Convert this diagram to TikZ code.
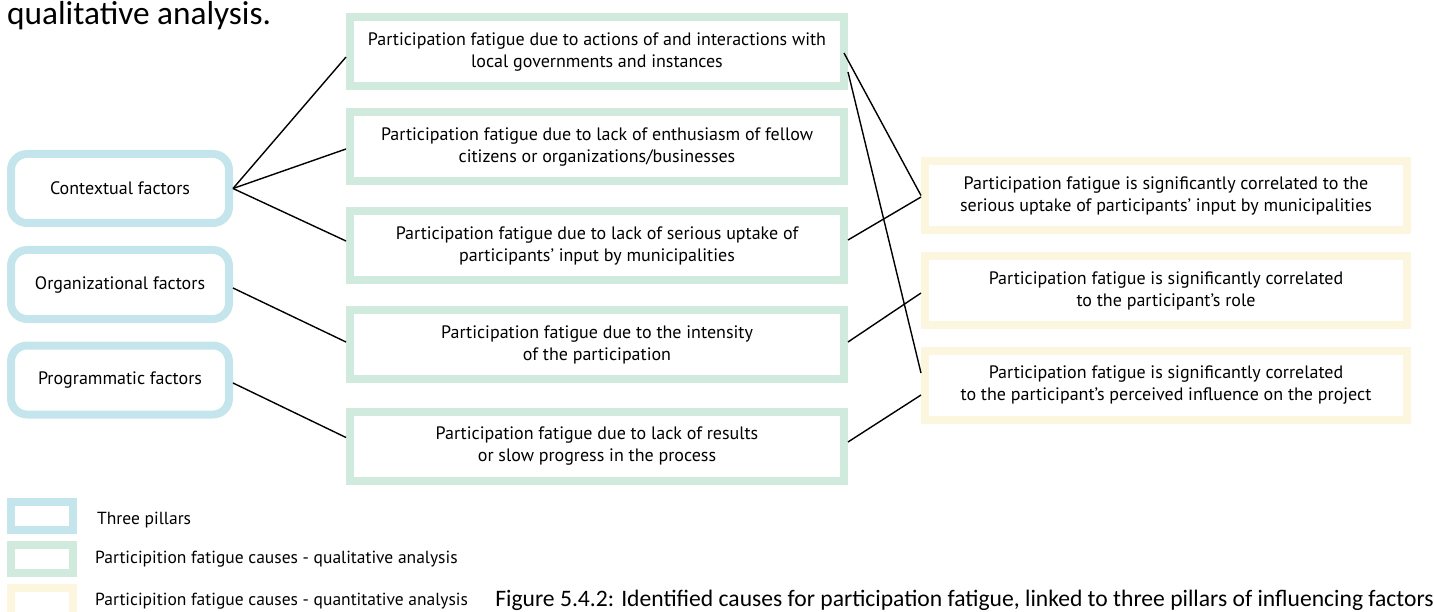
\documentclass[tikz,border=0pt]{standalone}
\usepackage{fontspec}
\setmainfont{PT Sans}
\newfontfamily\capfont{Carlito}
\usetikzlibrary{calc}

\definecolor{pillarblue}{HTML}{C4E5EB}
\definecolor{qualgreen}{HTML}{D0EADD}
\definecolor{quantyellow}{HTML}{FCF6DE}

\tikzset{
  pillar/.style={draw=pillarblue, line width=8pt, rounded corners=16pt,
    minimum width=218pt, minimum height=69pt, inner sep=0pt, align=center,
    font=\fontsize{18}{22}\selectfont},
  qual/.style={draw=qualgreen, line width=8pt, minimum width=494pt,
    minimum height=69pt, inner sep=0pt, align=center,
    font=\fontsize{18}{22}\selectfont},
  quant/.style={draw=quantyellow, line width=8pt, minimum width=482pt,
    minimum height=69pt, inner sep=0pt, align=center,
    font=\fontsize{18}{22}\selectfont},
  link/.style={draw=black, line width=1.4pt},
  keybox/.style={line width=8pt, minimum width=62pt, minimum height=28pt, inner sep=0pt},
  keytext/.style={anchor=west, inner sep=0pt, font=\fontsize{17.5}{20}\selectfont},
}

\begin{document}
\begin{tikzpicture}[x=1pt,y=-1pt]
\useasboundingbox (0,0) rectangle (1434,612);
\clip (0,0) rectangle (1434,612);

% running text above the figure
\node[anchor=base west, inner sep=0pt, font=\capfont\fontsize{33.3}{36}\selectfont]
  (intro) at (7,25) {qualitative analysis.};

% three pillars
\node[pillar] (ctx)  at (120,188.5) {Contextual factors};
\node[pillar] (org)  at (120,284.5) {Organizational factors};
\node[pillar] (prog) at (120,380)   {Programmatic factors};

% qualitative causes
\node[qual] (q1) at (597,52)    {Participation fatigue due to actions of and interactions with\\local governments and instances};
\node[qual] (q2) at (597,147)   {Participation fatigue due to lack of enthusiasm of fellow\\citizens or organizations/businesses};
\node[qual] (q3) at (597,245.5) {Participation fatigue due to lack of serious uptake of\\participants’ input by municipalities};
\node[qual] (q4) at (597,344.5) {Participation fatigue due to the intensity\\of the participation};
\node[qual] (q5) at (597,446.5) {Participation fatigue due to lack of results\\or slow progress in the process};

% quantitative causes
\node[quant] (yA) at (1166,195.5) {Participation fatigue is significantly correlated to the\\serious uptake of participants’ input by municipalities};
\node[quant] (yB) at (1166,290.5) {Participation fatigue is significantly correlated\\to the participant’s role};
\node[quant] (yC) at (1166,385.5) {Participation fatigue is significantly correlated\\to the participant’s perceived influence on the project};

% pillars to qualitative causes
\draw[link] (ctx.east) -- ($(q1.west)+(0,5)$);
\draw[link] (ctx.east) -- ($(q2.west)+(0,2)$);
\draw[link] (ctx.east) -- ($(q3.west)+(0,-4.5)$);
\draw[link] ($(org.east)+(0,3.5)$) -- ($(q4.west)+(0,-2.5)$);
\draw[link] ($(prog.east)+(0,3)$) -- ($(q5.west)+(0,-9)$);

% qualitative to quantitative causes
\draw[link] ($(q1.east)+(-4,1)$) -- (yA.west);
\draw[link] ($(q1.east)+(0,20)$) -- ($(yC.west)+(0,-12.5)$);
\draw[link] ($(q3.east)+(0,-5.5)$) -- ($(yA.west)+(0,1.5)$);
\draw[link] ($(q4.east)+(0,-2.5)$) -- ($(yB.west)+(0,2.5)$);
\draw[link] ($(q5.east)+(0,-4.5)$) -- ($(yC.west)+(0,9.5)$);

% legend
\node[keybox, draw=pillarblue]  (kb) at (42,516) {};
\node[keybox, draw=qualgreen]   (kg) at (42,559) {};
\node[keybox, draw=quantyellow] (ky) at (42,602) {};
\node[keytext] (kbt) at (97,520) {Three pillars};
\node[keytext] (kgt) at (95,559) {Participition fatigue causes - qualitative analysis};
\node[keytext] (kyt) at (95,601) {Participition fatigue causes - quantitative analysis};

% caption
\node[anchor=base east, inner sep=0pt, font=\capfont\fontsize{23.6}{26}\selectfont]
  (cap) at (1434,606) {Figure 5.4.2: Identified causes for participation fatigue, linked to three pillars of influencing factors};
\end{tikzpicture}
\end{document}
